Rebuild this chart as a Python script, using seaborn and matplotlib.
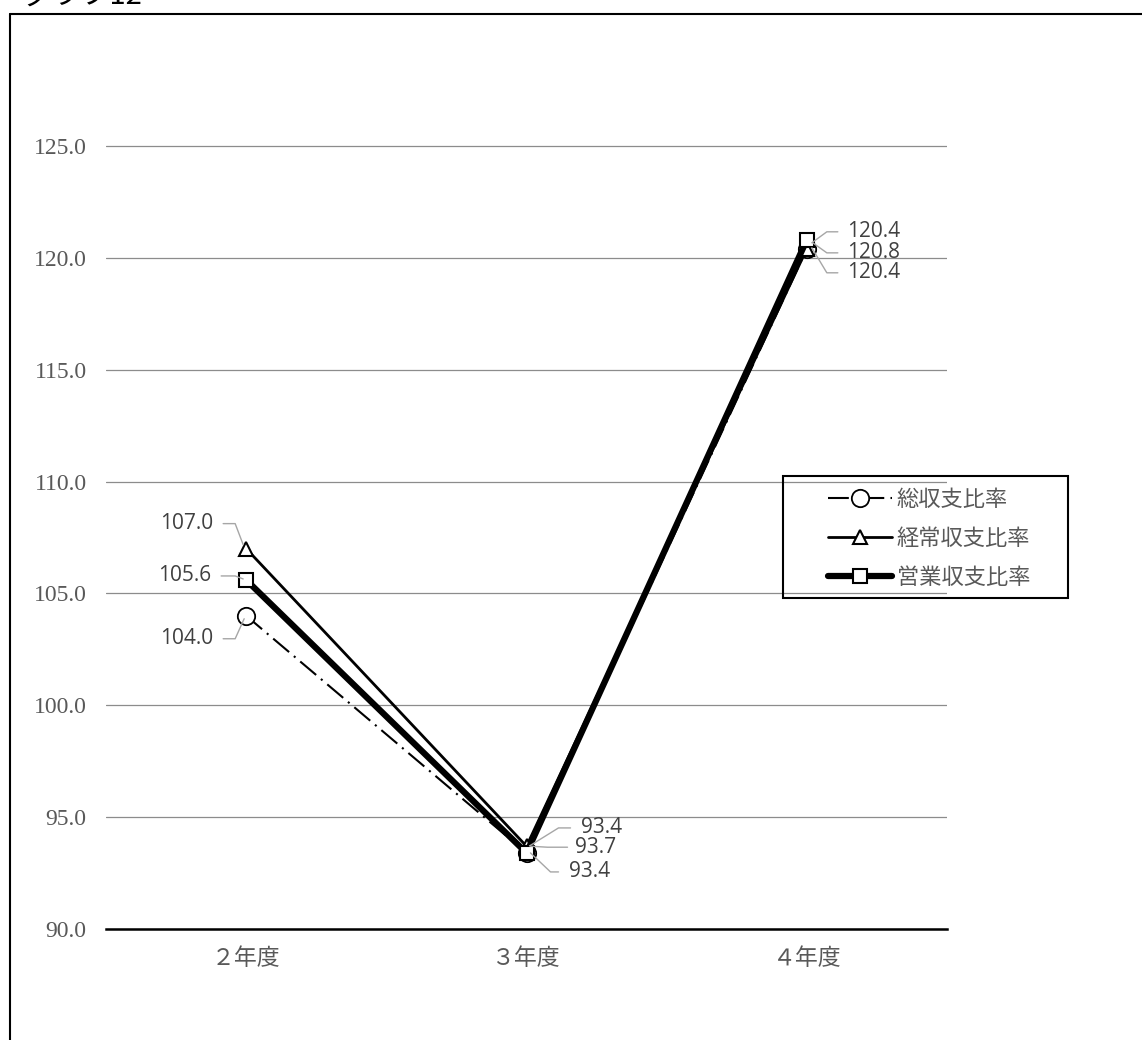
import numpy as np
import pandas as pd
import matplotlib
matplotlib.use("Agg")
import matplotlib.pyplot as plt
from matplotlib.lines import Line2D
from matplotlib.patches import Rectangle
import seaborn as sns

# ---------------- data ----------------
categories = ["２年度", "３年度", "４年度"]
series_names = ["総収支比率", "経常収支比率", "営業収支比率"]
total_ratio = [104.0, 93.4, 120.4]        # 総収支比率
ordinary_ratio = [107.0, 93.7, 120.4]     # 経常収支比率
operating_ratio = [105.6, 93.4, 120.8]    # 営業収支比率
y_ticks = [90.0, 95.0, 100.0, 105.0, 110.0, 115.0, 120.0, 125.0]
chart_title = "グラフ12"

# ---------------- style ----------------
sns.set_theme(style="white")
plt.rcParams["font.family"] = ["Noto Sans CJK JP", "DejaVu Sans"]

W, H = 1142, 1040
fig = plt.figure(figsize=(W / 100, H / 100), dpi=100)
fig.patch.set_facecolor("white")

ax_left, ax_right, ax_top, ax_bottom = 106, 947, 34, 929
ax = fig.add_axes([ax_left / W, 1 - ax_bottom / H,
                   (ax_right - ax_left) / W, (ax_bottom - ax_top) / H])

pos = np.arange(len(categories))
styles = [
    dict(linewidth=1.5, linestyle=(0, (10, 3, 1, 3)), marker="o", markersize=12.5,
         markeredgewidth=1.3, zorder=3),
    dict(linewidth=2.0, linestyle="-", marker="^", markersize=10.5,
         markeredgewidth=1.5, zorder=4),
    dict(linewidth=4.5, linestyle="-", marker="s", markersize=9.5,
         markeredgewidth=1.5, zorder=5),
]
all_values = [total_ratio, ordinary_ratio, operating_ratio]

for name, vals, st in zip(series_names, all_values, styles):
    sns.lineplot(x=pos, y=vals, ax=ax, color="black", label=name,
                 markerfacecolor="white", markeredgecolor="black",
                 sort=False, **st)

ax.set_xlim(-0.5, len(categories) - 0.5)
ax.set_ylim(90, 130)
ax.set_yticks(y_ticks)
ax.set_yticklabels([f"{v:.1f}" for v in y_ticks], family=["Liberation Serif"],
                   fontsize=17, color="#595959")
ax.set_xticks(pos)
ax.set_xticklabels(categories, fontsize=16.5, color="#595959")
ax.tick_params(axis="both", length=0)
ax.tick_params(axis="y", pad=14)
ax.tick_params(axis="x", pad=13)
ax.grid(axis="y", color="#8c8c8c", linewidth=0.9)
ax.grid(axis="x", visible=False)
for s in ["left", "right", "top"]:
    ax.spines[s].set_visible(False)
ax.spines["bottom"].set_color("black")
ax.spines["bottom"].set_linewidth(1.8)
ax.set_xlabel("")
ax.set_ylabel("")
ax.set_facecolor("white")

# ---------------- legend ----------------
handles, labels = ax.get_legend_handles_labels()
leg = ax.legend(handles, labels, loc="center left",
                bbox_to_anchor=(828 / W, 1 - 538 / H), bbox_transform=fig.transFigure,
                frameon=False, borderpad=0, borderaxespad=0,
                handlelength=2.9, handletextpad=0.2, labelspacing=0.72,
                prop={"family": ["Noto Sans CJK JP"], "size": 16})
for t in leg.get_texts():
    t.set_color("#595959")
fig.add_artist(Rectangle((783 / W, 1 - 598 / H), (1068 - 783) / W, (598 - 476) / H,
                         transform=fig.transFigure, fill=False,
                         edgecolor="black", linewidth=1.5, zorder=10))

# ---------------- data labels with leader lines ----------------
# (series index, point index): text dx, text dy (pixels, y up), ha, leader start dx, corner dx, end (dx, dy)
label_layout = {
    (1, 0): (-33, 25, "right", -23, -11, (-3, 4)),
    (2, 0): (-35, 4, "right", -25, -11, (-3, 1)),
    (0, 0): (-33, -23, "right", -23, -11, (-2, -3)),
    (2, 1): (54, 25, "left", 44, 32, (3, 7)),
    (1, 1): (49, -1, "left", 41, 21, (4, 0)),
    (0, 1): (42, -19, "left", 32, 24, (4, 0)),
    (0, 2): (40, 17, "left", 31, 20, (5, 6)),
    (2, 2): (40, -13, "left", 31, 20, (6, -3)),
    (1, 2): (40, -24, "left", 31, 20, (5, 1)),
}
fig.canvas.draw()
to_fig = fig.transFigure.inverted()
for (si, pi), (tdx, tdy, ha, ldx0, ldx1, (edx, edy)) in label_layout.items():
    v = all_values[si][pi]
    ax.annotate(f"{v:.1f}", xy=(pos[pi], v), xytext=(tdx, tdy),
                textcoords="offset pixels", ha=ha, va="center",
                fontsize=15, color="#404040", family=["Open Sans", "DejaVu Sans"],
                zorder=8)
    px, py = ax.transData.transform((pos[pi], v))
    pts = np.array([[px + ldx0, py + tdy], [px + ldx1, py + tdy], [px + edx, py + edy]])
    fpts = to_fig.transform(pts)
    fig.add_artist(Line2D(fpts[:, 0], fpts[:, 1], transform=fig.transFigure,
                          color="#a6a6a6", linewidth=1.0, zorder=7))

# ---------------- outer frame and clipped title ----------------
fig.add_artist(Line2D([9.5 / W, 9.5 / W], [0, 1 - 14 / H], transform=fig.transFigure,
                      color="black", linewidth=1.5))
fig.add_artist(Line2D([9.5 / W, 1], [1 - 14 / H, 1 - 14 / H], transform=fig.transFigure,
                      color="black", linewidth=1.5))
fig.text(22 / W, 1 - 4 / H, chart_title, ha="left", va="baseline",
         fontsize=21, color="black")

fig.savefig("out.png", dpi=100, facecolor="white")
